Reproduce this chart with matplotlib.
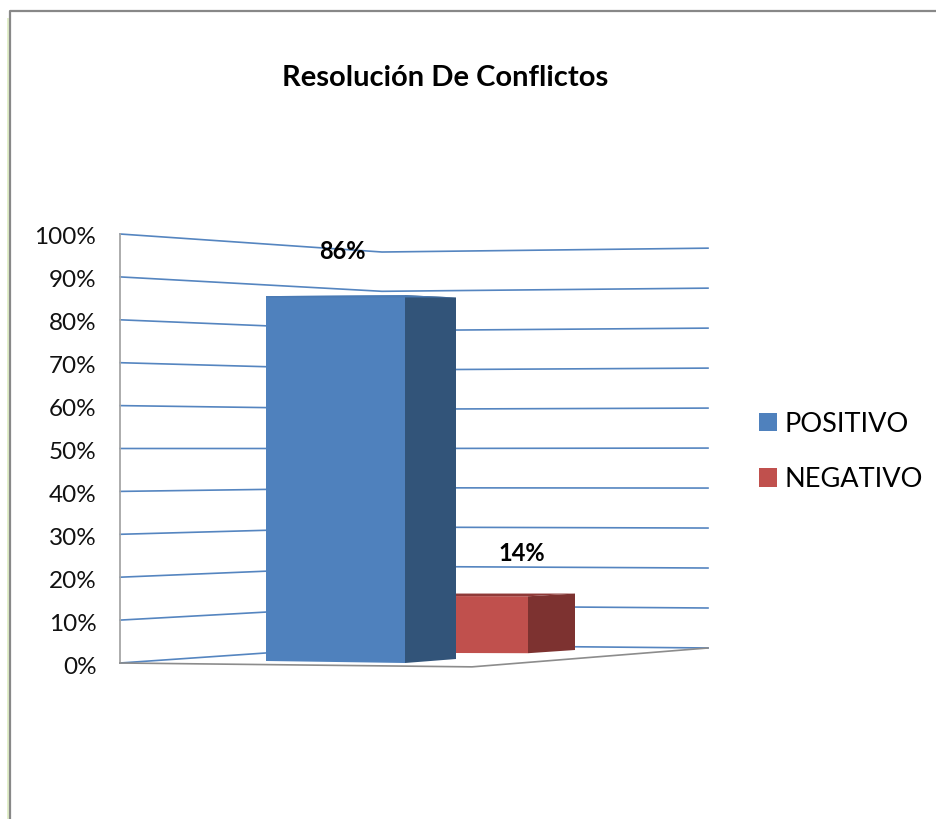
#Resolucion de conflictos - pseudo 3D columns
import matplotlib
matplotlib.use('Agg')
import matplotlib.pyplot as plt
from matplotlib.patches import Polygon, Patch, Rectangle
from matplotlib.lines import Line2D
from matplotlib.transforms import ScaledTranslation

title = 'Resolución De Conflictos'
categories = ['POSITIVO', 'NEGATIVO']
values = [86, 14]
ticks = [0, 10, 20, 30, 40, 50, 60, 70, 80, 90, 100]

W, H = 936, 819
plt.rcParams['font.family'] = ['Lato', 'DejaVu Sans']

fig = plt.figure(figsize=(W / 100, H / 100), dpi=100, facecolor='white')
#axes box: left wall x=120..708 px, 0% at y=663 px, 100% at y=234 px
ax = fig.add_axes([120 / W, 1 - 663 / H, (708 - 120) / W, (663 - 234) / H])
ax.set_xlim(120, 708)
ax.set_ylim(0, 100)
ax.patch.set_alpha(0)
for s in ax.spines.values():
	s.set_visible(False)
ax.set_xticks([])
ax.set_yticks(ticks)
ax.set_yticklabels(['{}%'.format(t) for t in ticks], fontsize=17.5, color='#111111')
ax.tick_params(axis='y', length=0, pad=17)
#labels sit 2 px under their gridline starts
for lab in ax.get_yticklabels():
	lab.set_transform(lab.get_transform() + ScaledTranslation(0, -2 / 100, fig.dpi_scale_trans))

grid = '#5585c0'
floorColor = '#8c8c8c'

#a plane at some depth: (x, where 0 lands, how much 1% measures)
wallLeft = (120, 0.0, 1.0)
wallCorner = (382, 4.2, 0.916)
wallRight = (708, 3.5, 0.932)

def pt(plane, v):
	return (plane[0], plane[1] + v * plane[2])

#gridlines on the two walls
for t in ticks:
	a, b, c = pt(wallLeft, t), pt(wallCorner, t), pt(wallRight, t)
	ax.plot([a[0], b[0], c[0]], [a[1], b[1], c[1]], color=grid, lw=1.2, zorder=1, clip_on=False)

#walls and floor edges
ax.plot([120, 120], [0, 100], color='#a6a6a6', lw=1.3, zorder=1, clip_on=False)
ax.plot([120, 472, 708], [0, -0.9, 3.5], color=floorColor, lw=1.2, zorder=2, clip_on=False)

def drawBar(v, frontL, frontR, back, cFront, cSide, cTop, z):
	quad = lambda p, q: [pt(p, 0), pt(q, 0), pt(q, v), pt(p, v)]
	ax.add_patch(Polygon(quad(frontL, frontR), closed=True, fc=cFront, ec='none', zorder=z, clip_on=False))
	ax.add_patch(Polygon(quad(frontR, back), closed=True, fc=cSide, ec='none', zorder=z, clip_on=False))
	backL = (frontL[0], back[1], back[2])
	ax.add_patch(Polygon([pt(frontL, v), pt(frontR, v), pt(back, v), pt(backL, v)], closed=True, fc=cTop, ec='none', zorder=z, clip_on=False))

#red first, blue stands in front of it
drawBar(values[1], (456, 2.33, 0.948), (528, 2.28, 0.948), (575, 3.03, 0.94), '#c0504d', '#7d3230', '#8f3a38', 3)
drawBar(values[0], (266, 0.47, 0.989), (405, 0.0, 0.997), (456, 0.93, 0.98), '#4f81bd', '#325479', '#4a7ab4', 4)

#data labels
ax.text(342, values[0] + 10, '{}%'.format(values[0]), ha='center', va='center', fontsize=17, fontweight='bold', color='black', zorder=6)
ax.text(522, values[1] + 11.5, '{}%'.format(values[1]), ha='center', va='center', fontsize=17, fontweight='bold', color='black', zorder=6)

fig.text(445 / W, 1 - 78 / H, title, ha='center', va='center', fontsize=21, fontweight='bold', color='black')

handles = [Patch(fc='#4f81bd', ec='none', label=categories[0]), Patch(fc='#c0504d', ec='none', label=categories[1])]
fig.legend(handles=handles, loc='upper left', bbox_to_anchor=(756 / W, 1 - 409 / H), frameon=False, fontsize=19.5,
	handlelength=0.66, handleheight=0.66, handletextpad=0.3, labelspacing=1.12, borderpad=0.1, borderaxespad=0)

#page border, with the faint green edge on its left
fig.add_artist(Rectangle((7 / W, 0), 2 / W, 1 - 18 / H, transform=fig.transFigure, fc='#e2efca', ec='none'))
fig.add_artist(Line2D([10 / W, 10 / W, 1], [0, 1 - 11 / H, 1 - 11 / H], transform=fig.transFigure, color='#888888', lw=1.6))

fig.savefig('out.png', dpi=100)
